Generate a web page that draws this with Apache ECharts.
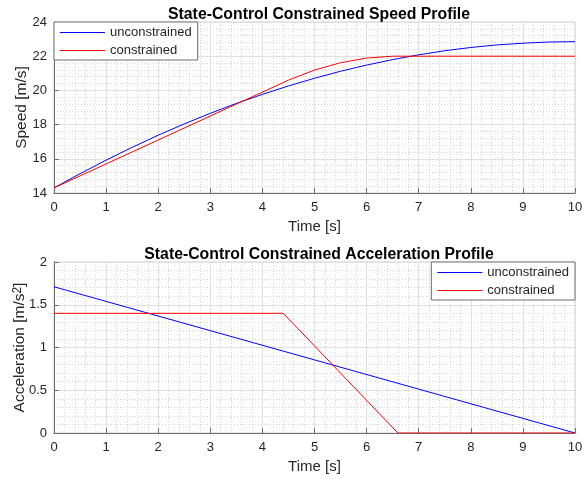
<!DOCTYPE html>
<html>
<head>
<meta charset="utf-8">
<script src="https://cdn.jsdelivr.net/npm/echarts@6/dist/echarts.min.js"></script>
<style>
  html, body { margin: 0; padding: 0; background: #fff; }
  #chart { width: 582px; height: 479px; }
</style>
</head>
<body>
<div id="chart"></div>
<script>
// 速度曲线
const timeUnc = [0, 0.5, 1, 1.5, 2, 2.5, 3, 3.5, 4, 4.5, 5, 5.5, 6, 6.5, 7, 7.5, 8, 8.5, 9, 9.5, 10];
const speedUnc = [14.3, 15.13, 15.92, 16.67, 17.38, 18.04, 18.66, 19.24, 19.77, 20.26, 20.71, 21.12, 21.48, 21.80, 22.08, 22.32, 22.51, 22.66, 22.76, 22.83, 22.85];
const timeCon = [0, 0.5, 1, 1.5, 2, 2.5, 3, 3.5, 4, 4.4, 4.5, 5, 5.5, 6, 6.5, 6.6, 7, 8, 9, 10];
const speedCon = [14.3, 15.0, 15.7, 16.4, 17.1, 17.8, 18.5, 19.2, 19.9, 20.46, 20.6, 21.19, 21.62, 21.89, 22.0, 22.0, 22.0, 22.0, 22.0, 22.0];

// 加速度曲线
const timeAccUnc = [0, 10];
const accUnc = [1.71, 0];
const timeAccCon = [0, 4.4, 6.6, 10];
const accCon = [1.4, 1.4, 0, 0];

const xTicks = [0, 10, 1];
const speedTicks = [14, 24, 2];
const accTicks = [0, 2, 0.5];

const FONT = 'Liberation Sans, Arial, sans-serif';

function pairs(xs, ys) {
    return xs.map(function(x, i) { return [x, ys[i]]; });
}

function xAxisCfg(idx) {
    return {
        type: 'value', gridIndex: idx,
        min: xTicks[0], max: xTicks[1], interval: xTicks[2],
        name: 'Time [s]', nameLocation: 'middle', nameGap: 26,
        nameTextStyle: { fontFamily: FONT, fontSize: 15, color: '#262626' },
        axisLine: { show: true, lineStyle: { color: '#6e6e6e', width: 1 } },
        axisTick: { show: true, inside: true, length: 5, lineStyle: { color: '#6e6e6e' } },
        axisLabel: { fontFamily: FONT, fontSize: 13, color: '#262626', margin: 8 },
        splitLine: { show: true, lineStyle: { color: '#e0e0e0', width: 1 } },
        minorTick: { show: false, splitNumber: 5 },
        minorSplitLine: { show: true, lineStyle: { color: '#d4d4d4', type: [1, 2], width: 1 } }
    };
}

function yAxisCfg(idx, ticks, name, gap) {
    return {
        type: 'value', gridIndex: idx,
        min: ticks[0], max: ticks[1], interval: ticks[2],
        name: name, nameLocation: 'middle', nameGap: gap, nameRotate: 90,
        nameMoveOverlap: false,
        nameTextStyle: {
            fontFamily: FONT, fontSize: 15.5, color: '#262626',
            rich: { sup: { fontFamily: FONT, fontSize: 12, color: '#262626', verticalAlign: 'top', lineHeight: 15 } }
        },
        axisLine: { show: true, lineStyle: { color: '#6e6e6e', width: 1 } },
        axisTick: { show: true, inside: true, length: 5, lineStyle: { color: '#6e6e6e' } },
        axisLabel: { fontFamily: FONT, fontSize: 13, color: '#262626', margin: 7 },
        splitLine: { show: true, lineStyle: { color: '#e0e0e0', width: 1 } },
        minorTick: { show: false, splitNumber: 5 },
        minorSplitLine: { show: true, lineStyle: { color: '#d4d4d4', type: [1, 2], width: 1 } }
    };
}

function legendCfg(pos) {
    return Object.assign({
        orient: 'vertical',
        data: [
            { name: 'unconstrained', icon: 'rect' },
            { name: 'constrained', icon: 'rect' }
        ],
        backgroundColor: '#fff',
        borderColor: '#6e6e6e',
        borderWidth: 1,
        borderRadius: 0,
        padding: [4, 6, 3, 6],
        itemGap: 5,
        itemWidth: 45,
        itemHeight: 1,
        textStyle: { fontFamily: FONT, fontSize: 13, color: '#262626' }
    }, pos);
}

function lineSeries(name, color, xi, data) {
    return {
        name: name, type: 'line', xAxisIndex: xi, yAxisIndex: xi,
        showSymbol: false, symbol: 'none',
        lineStyle: { color: color, width: 1 },
        itemStyle: { color: color },
        emphasis: { disabled: true },
        data: data
    };
}

const chart = echarts.init(document.getElementById('chart'));

chart.setOption({
    animation: false,
    title: [
        { text: 'State-Control Constrained Speed Profile', left: 314, textAlign: 'center', top: 2,
          textStyle: { fontFamily: FONT, fontSize: 15.8, fontWeight: 'bold', color: '#000' } },
        { text: 'State-Control Constrained Acceleration Profile', left: 314, textAlign: 'center', top: 242,
          textStyle: { fontFamily: FONT, fontSize: 15.8, fontWeight: 'bold', color: '#000' } }
    ],
    legend: [
        legendCfg({ left: 54, top: 22 }),
        legendCfg({ right: 7, top: 262 })
    ],
    grid: [
        { left: 54, top: 22, width: 521, height: 171, show: true, borderColor: '#d0d0d0', borderWidth: 1, outerBoundsMode: 'none' },
        { left: 54, top: 262, width: 521, height: 171, show: true, borderColor: '#d0d0d0', borderWidth: 1, outerBoundsMode: 'none' }
    ],
    xAxis: [xAxisCfg(0), xAxisCfg(1)],
    yAxis: [
        yAxisCfg(0, speedTicks, 'Speed [m/s]', 24),
        yAxisCfg(1, accTicks, 'Acceleration [m/s{sup|2}]', 26)
    ],
    series: [
        lineSeries('unconstrained', '#0000ff', 0, pairs(timeUnc, speedUnc)),
        lineSeries('constrained', '#ff0000', 0, pairs(timeCon, speedCon)),
        lineSeries('unconstrained', '#0000ff', 1, pairs(timeAccUnc, accUnc)),
        lineSeries('constrained', '#ff0000', 1, pairs(timeAccCon, accCon))
    ]
});
</script>
</body>
</html>
